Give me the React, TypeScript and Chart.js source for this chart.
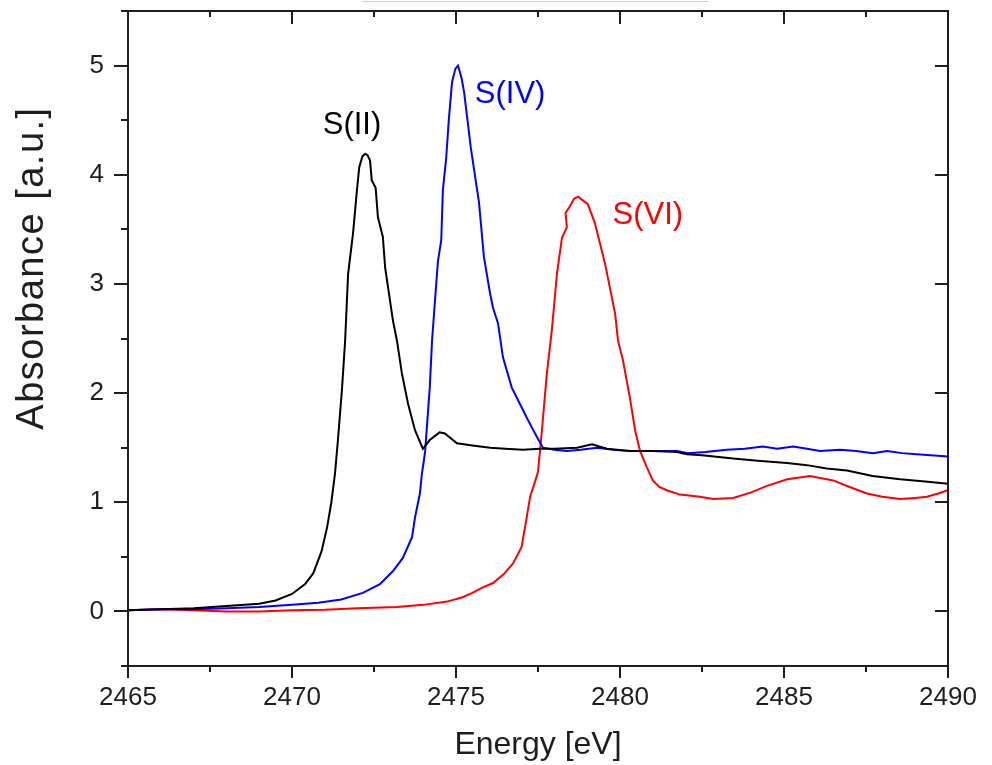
import { useEffect, useRef } from "react";
import { Chart, registerables } from "chart.js";

Chart.register(...registerables);

// ---------- data ----------
const sIIEnergy = [2465, 2466, 2467, 2468, 2469, 2469.5, 2470, 2470.4, 2470.65, 2470.9, 2471.07, 2471.2, 2471.31, 2471.4, 2471.52, 2471.62, 2471.71, 2471.86, 2471.98, 2472.05, 2472.15, 2472.23, 2472.3, 2472.38, 2472.43, 2472.55, 2472.62, 2472.77, 2472.84, 2473.08, 2473.2, 2473.35, 2473.54, 2473.75, 2473.99, 2474.2, 2474.5, 2474.66, 2475.03, 2475.5, 2476.04, 2476.5, 2477.04, 2477.56, 2478.0, 2478.69, 2479.15, 2479.6, 2480.3, 2481.0, 2481.74, 2482.04, 2482.5, 2483.45, 2484.2, 2485.09, 2485.7, 2486.3, 2486.92, 2487.7, 2488.54, 2489.3, 2490];
const sIIAbsorbance = [0.01, 0.02, 0.03, 0.05, 0.07, 0.1, 0.16, 0.25, 0.35, 0.55, 0.77, 1.0, 1.26, 1.57, 2.02, 2.48, 3.09, 3.46, 3.86, 4.07, 4.17, 4.19, 4.18, 4.13, 3.95, 3.88, 3.61, 3.43, 3.15, 2.66, 2.48, 2.18, 1.9, 1.66, 1.49, 1.57, 1.64, 1.63, 1.54, 1.52, 1.5, 1.49, 1.48, 1.49, 1.49, 1.5, 1.53, 1.49, 1.47, 1.47, 1.46, 1.44, 1.43, 1.4, 1.38, 1.36, 1.34, 1.31, 1.29, 1.24, 1.21, 1.19, 1.17];

const sIVEnergy = [2465, 2466, 2467, 2468, 2469, 2470, 2470.8, 2471.5, 2472.16, 2472.68, 2473.08, 2473.38, 2473.66, 2473.75, 2473.9, 2473.96, 2474.02, 2474.06, 2474.12, 2474.2, 2474.27, 2474.36, 2474.45, 2474.55, 2474.6, 2474.7, 2474.78, 2474.88, 2474.98, 2475.06, 2475.13, 2475.18, 2475.25, 2475.35, 2475.45, 2475.55, 2475.7, 2475.85, 2476.04, 2476.13, 2476.28, 2476.43, 2476.7, 2476.95, 2477.2, 2477.41, 2477.65, 2478.0, 2478.38, 2478.8, 2479.3, 2479.8, 2480.3, 2481.0, 2481.74, 2482.07, 2482.6, 2483.26, 2483.8, 2484.36, 2484.79, 2485.28, 2485.7, 2486.1, 2486.71, 2487.2, 2487.71, 2488.14, 2488.6, 2489.05, 2490];
const sIVAbsorbance = [0.01, 0.02, 0.02, 0.03, 0.04, 0.06, 0.08, 0.11, 0.17, 0.25, 0.37, 0.49, 0.68, 0.86, 1.08, 1.26, 1.38, 1.47, 1.72, 2.05, 2.48, 2.85, 3.21, 3.4, 3.86, 4.15, 4.5, 4.85, 4.97, 5.0, 4.93, 4.87, 4.75, 4.5, 4.25, 4.05, 3.75, 3.25, 2.91, 2.78, 2.64, 2.33, 2.05, 1.9, 1.75, 1.63, 1.5, 1.48, 1.47, 1.48, 1.5, 1.48, 1.47, 1.47, 1.47, 1.45, 1.46, 1.48, 1.49, 1.51, 1.49, 1.51, 1.49, 1.47, 1.48, 1.47, 1.45, 1.47, 1.45, 1.44, 1.42];

const sVIEnergy = [2465, 2466, 2467, 2468, 2469, 2470, 2471, 2472, 2473.2, 2474, 2474.73, 2475.2, 2475.5, 2475.82, 2476.13, 2476.45, 2476.74, 2477.0, 2477.15, 2477.26, 2477.4, 2477.5, 2477.62, 2477.77, 2477.92, 2478.08, 2478.23, 2478.38, 2478.34, 2478.45, 2478.6, 2478.72, 2478.85, 2479.02, 2479.24, 2479.54, 2479.85, 2479.94, 2480.09, 2480.3, 2480.46, 2480.61, 2480.82, 2481.0, 2481.2, 2481.43, 2481.83, 2482.44, 2482.84, 2483.45, 2484.0, 2484.48, 2485.1, 2485.79, 2486.5, 2487.0, 2487.53, 2488.0, 2488.54, 2489.0, 2489.36, 2489.7, 2490];
const sVIAbsorbance = [0.01, 0.02, 0.01, 0.0, 0.0, 0.01, 0.015, 0.03, 0.04, 0.06, 0.09, 0.13, 0.17, 0.22, 0.26, 0.34, 0.44, 0.59, 0.85, 1.05, 1.18, 1.28, 1.66, 2.18, 2.57, 3.1, 3.42, 3.52, 3.65, 3.7, 3.78, 3.8, 3.77, 3.73, 3.55, 3.19, 2.73, 2.48, 2.3, 1.96, 1.66, 1.47, 1.32, 1.2, 1.14, 1.11, 1.07, 1.05, 1.03, 1.04, 1.09, 1.15, 1.21, 1.24, 1.2, 1.14, 1.08, 1.05, 1.03, 1.04, 1.05, 1.08, 1.11];

const seriesNames = ["S(II)", "S(IV)", "S(VI)"];
const seriesColors = ["#000000", "#0000ff", "#ff0000"];
// label anchor positions in data units (energy, absorbance)
const labelEnergy = [2471.83, 2476.65, 2480.85];
const labelAbsorbance = [4.45, 4.74, 3.63];

const xTickValues = [2465, 2470, 2475, 2480, 2485, 2490];
const xMinorValues = [2467.5, 2472.5, 2477.5, 2482.5, 2487.5];
const yTickValues = [0, 1, 2, 3, 4, 5];
const yMinorValues = [-0.5, 0.5, 1.5, 2.5, 3.5, 4.5, 5.5];

const xTitle = "Energy [eV]";
const yTitle = "Absorbance [a.u.]";

const FONT = "'Liberation Sans', Arial, Helvetica, sans-serif";

function toPoints(xs: number[], ys: number[]) {
  return xs.map((x, i) => ({ x, y: ys[i] }));
}

const framePlugin = {
  id: "framePlugin",
  afterDraw(chart: any) {
    const { ctx, chartArea, scales } = chart;
    const { left, right, top, bottom } = chartArea;
    const xs = scales.x;
    const ys = scales.y;
    ctx.save();
    // faint artifact line at top
    ctx.strokeStyle = "#d0d0d0";
    ctx.lineWidth = 1;
    ctx.beginPath();
    ctx.moveTo(362, 1.5);
    ctx.lineTo(708, 1.5);
    ctx.stroke();

    ctx.strokeStyle = "#1e1e1e";
    ctx.lineWidth = 2;
    ctx.lineCap = "butt";
    ctx.strokeRect(left, top, right - left, bottom - top);
    ctx.beginPath();
    xTickValues.forEach((v) => {
      const px = Math.round(xs.getPixelForValue(v));
      ctx.moveTo(px, bottom);
      ctx.lineTo(px, bottom + 12);
      ctx.moveTo(px, top);
      ctx.lineTo(px, top + 13);
    });
    xMinorValues.forEach((v) => {
      const px = Math.round(xs.getPixelForValue(v));
      ctx.moveTo(px, bottom);
      ctx.lineTo(px, bottom + 6);
      ctx.moveTo(px, top);
      ctx.lineTo(px, top + 6);
    });
    yTickValues.forEach((v) => {
      const py = Math.round(ys.getPixelForValue(v));
      ctx.moveTo(left, py);
      ctx.lineTo(left - 14, py);
      ctx.moveTo(right, py);
      ctx.lineTo(right - 13, py);
    });
    yMinorValues.forEach((v) => {
      const py = Math.round(ys.getPixelForValue(v));
      ctx.moveTo(left, py);
      ctx.lineTo(left - 7, py);
    });
    ctx.stroke();

    // series labels
    ctx.font = `31px ${FONT}`;
    ctx.textAlign = "center";
    ctx.textBaseline = "middle";
    seriesNames.forEach((name, i) => {
      ctx.fillStyle = seriesColors[i];
      ctx.fillText(name, xs.getPixelForValue(labelEnergy[i]), ys.getPixelForValue(labelAbsorbance[i]));
    });

    // axis titles
    ctx.fillStyle = "#1e1e1e";
    ctx.font = `32px ${FONT}`;
    ctx.fillText(xTitle, (left + right) / 2, 745);
    ctx.save();
    ctx.translate(33, 268);
    ctx.rotate(-Math.PI / 2);
    ctx.font = `38px ${FONT}`;
    try {
      (ctx as any).letterSpacing = "1.5px";
    } catch (e) {}
    ctx.fillText(yTitle, 0, 0);
    ctx.restore();
    ctx.restore();
  },
};

function zeroPadding(s: any) {
  s.paddingTop = 0;
  s.paddingBottom = 0;
  s.paddingLeft = 0;
  s.paddingRight = 0;
}

export default function App() {
  const canvasRef = useRef<HTMLCanvasElement | null>(null);

  useEffect(() => {
    if (!canvasRef.current) return;
    const chart = new Chart(canvasRef.current, {
      type: "line",
      data: {
        datasets: [
          { label: seriesNames[0], data: toPoints(sIIEnergy, sIIAbsorbance), borderColor: seriesColors[0] },
          { label: seriesNames[1], data: toPoints(sIVEnergy, sIVAbsorbance), borderColor: seriesColors[1] },
          { label: seriesNames[2], data: toPoints(sVIEnergy, sVIAbsorbance), borderColor: seriesColors[2] },
        ].map((d) => ({ ...d, borderWidth: 2, pointRadius: 0, fill: false, tension: 0 })),
      },
      options: {
        responsive: false,
        animation: false,
        parsing: false as any,
        layout: { padding: { top: 11, right: 44, left: 0, bottom: 0 } },
        plugins: { legend: { display: false }, tooltip: { enabled: false } },
        scales: {
          x: {
            type: "linear",
            min: 2465,
            max: 2490,
            grid: { display: false, drawTicks: false },
            border: { display: false },
            ticks: {
              font: { family: FONT, size: 26 },
              color: "#1e1e1e",
              padding: 16,
              maxRotation: 0,
              autoSkip: false,
              callback: (v: any) => String(v),
            },
            afterBuildTicks: (s: any) => {
              s.ticks = xTickValues.map((v) => ({ value: v }));
            },
            afterFit: (s: any) => {
              s.height = 99;
              zeroPadding(s);
            },
          },
          y: {
            type: "linear",
            min: -0.5,
            max: 5.5,
            grid: { display: false, drawTicks: false },
            border: { display: false },
            ticks: {
              font: { family: FONT, size: 26 },
              color: "#1e1e1e",
              padding: 24,
              callback: (v: any) => String(v),
            },
            afterBuildTicks: (s: any) => {
              s.ticks = yTickValues.map((v) => ({ value: v }));
            },
            afterFit: (s: any) => {
              s.width = 128;
              zeroPadding(s);
            },
          },
        },
      },
      plugins: [framePlugin],
    });
    return () => chart.destroy();
  }, []);

  return (
    <div style={{ position: "absolute", left: 0, top: 0, width: 992, height: 765, background: "#fff" }}>
      <canvas ref={canvasRef} width={992} height={765} style={{ display: "block" }} />
    </div>
  );
}
